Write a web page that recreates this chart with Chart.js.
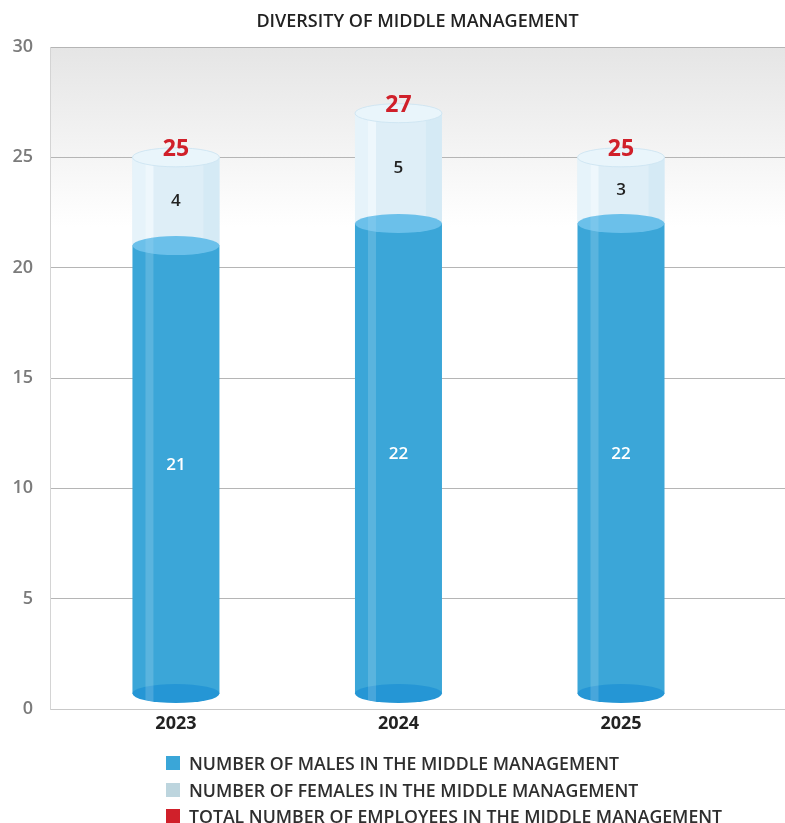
<!DOCTYPE html>
<html>
<head>
<meta charset="utf-8">
<title>Diversity of middle management</title>
<script src="https://cdn.jsdelivr.net/npm/chart.js@4.4.1/dist/chart.umd.min.js"></script>
<style>
  body { margin: 0; background: #fff; }
  #wrap { position: relative; width: 785px; height: 823px; }
  #legend {
    position: absolute; left: 166px; top: 750px;
    font-family: 'Open Sans', sans-serif; font-size: 17.7px; font-weight: 600; color: #2e2e2e;
  }
  .item { display: flex; align-items: center; height: 26.5px; white-space: nowrap; }
  .box { width: 14px; height: 14px; margin-right: 9px; flex: none; }
</style>
</head>
<body>
<div id="wrap">
  <canvas id="myChart" width="785" height="823"></canvas>
  <div id="legend"></div>
</div>
<script>
const years = ['2023', '2024', '2025'];
const males = [21, 22, 22];
const females = [4, 5, 3];
const totals = [25, 27, 25];

const seriesNames = [
  'NUMBER OF MALES IN THE MIDDLE MANAGEMENT',
  'NUMBER OF FEMALES IN THE MIDDLE MANAGEMENT',
  'TOTAL NUMBER OF EMPLOYEES IN THE MIDDLE MANAGEMENT'
];
const seriesColors = ['#3aa6d8', '#bdd5de', '#d0202a'];

const FONT = "'Open Sans', sans-serif";
const RY = 9.5;       // half height of the cylinder ellipses
const LIFT = 15;      // cylinders stand a little above the axis line

function ellipse(ctx, cx, cy, rx, ry) {
  ctx.beginPath();
  ctx.ellipse(cx, cy, rx, ry, 0, 0, Math.PI * 2);
}

function drawFemale(ctx, cx, w, top, bottom) {
  const left = cx - w / 2;
  ctx.fillStyle = '#deeef7';
  ctx.fillRect(left, top, w, bottom - top);
  ctx.fillStyle = '#e6f3fa';
  ctx.fillRect(left, top, 13, bottom - top);
  ctx.fillStyle = '#eef7fc';
  ctx.fillRect(left + 13, top, 8, bottom - top);
  ctx.fillStyle = '#d5eaf5';
  ctx.fillRect(left + w - 16, top, 16, bottom - top);
  ellipse(ctx, cx, top, w / 2, RY);
  ctx.fillStyle = '#e9f5fb';
  ctx.fill();
  ctx.strokeStyle = 'rgba(205,228,242,0.9)';
  ctx.lineWidth = 1;
  ctx.stroke();
}

function drawMale(ctx, cx, w, top, bottom) {
  const left = cx - w / 2;
  ctx.fillStyle = '#3ba6d8';
  ctx.fillRect(left, top, w, bottom - top);
  ellipse(ctx, cx, bottom, w / 2, RY);
  ctx.fillStyle = '#2596d5';
  ctx.fill();

  // light stripe down the side of the cylinder
  ctx.save();
  ctx.beginPath();
  ctx.rect(left, top, w, bottom - top);
  ctx.ellipse(cx, bottom, w / 2, RY, 0, 0, Math.PI * 2);
  ctx.clip();
  ctx.fillStyle = 'rgba(255,255,255,0.16)';
  ctx.fillRect(left + 13, top, 8, bottom - top + RY);
  ctx.restore();

  ellipse(ctx, cx, top, w / 2, RY);
  ctx.fillStyle = '#6bc0ea';
  ctx.fill();
  ctx.save();
  ellipse(ctx, cx, top, w / 2, RY);
  ctx.clip();
  ctx.fillStyle = 'rgba(255,255,255,0.1)';
  ctx.fillRect(left + 13, top - RY, 8, RY * 2);
  ctx.restore();
}

const cylinders = {
  id: 'cylinders',
  beforeDraw(chart) {
    const { ctx, chartArea } = chart;
    const g = ctx.createLinearGradient(0, chartArea.top, 0, chartArea.top + 180);
    g.addColorStop(0, '#e5e5e5');
    g.addColorStop(1, '#ffffff');
    ctx.save();
    ctx.fillStyle = g;
    ctx.fillRect(chartArea.left, chartArea.top, chartArea.right - chartArea.left, 180);
    ctx.restore();
  },
  afterDatasetsDraw(chart) {
    const { ctx, chartArea } = chart;
    const m = chart.getDatasetMeta(0).data;
    const f = chart.getDatasetMeta(1).data;
    ctx.save();
    years.forEach((yr, i) => {
      const w = m[i].width;
      const cx = m[i].x;
      const floor = m[i].base - LIFT;
      drawFemale(ctx, cx, w, f[i].y, f[i].base);
      drawMale(ctx, cx, w, m[i].y, floor);

      ctx.textAlign = 'center';
      ctx.textBaseline = 'middle';
      ctx.font = `600 17px ${FONT}`;
      ctx.fillStyle = '#ffffff';
      ctx.fillText(String(males[i]), cx, (m[i].y + floor) / 2 - 4);
      ctx.fillStyle = '#222222';
      ctx.fillText(String(females[i]), cx, (f[i].y + f[i].base) / 2);
      ctx.font = `700 23px ${FONT}`;
      ctx.fillStyle = '#d0202a';
      ctx.fillText(String(totals[i]), cx, chart.scales.y.getPixelForValue(totals[i]) - 8);
    });

    // heading over the plot
    ctx.font = `600 18px ${FONT}`;
    ctx.fillStyle = '#222222';
    ctx.fillText('DIVERSITY OF MIDDLE MANAGEMENT', (chartArea.left + chartArea.right) / 2, 22);
    ctx.restore();
  }
};

const ctx = document.getElementById('myChart').getContext('2d');
const chart = new Chart(ctx, {
  type: 'bar',
  data: {
    datasets: [
      {
        label: seriesNames[0],
        data: males.map((v, i) => ({ x: i, y: v })),
        backgroundColor: 'rgba(0,0,0,0)',
        borderWidth: 0,
        barThickness: 87
      },
      {
        label: seriesNames[1],
        data: females.map((v, i) => ({ x: i, y: v })),
        backgroundColor: 'rgba(0,0,0,0)',
        borderWidth: 0,
        barThickness: 87
      }
    ]
  },
  options: {
    responsive: false,
    animation: false,
    events: [],
    layout: { padding: { top: 47, left: 0, right: 0, bottom: 0 } },
    plugins: {
      legend: { display: false },
      tooltip: { enabled: false }
    },
    scales: {
      x: {
        type: 'linear',
        stacked: true,
        offset: false,
        min: -0.566,
        max: 2.737,
        afterBuildTicks: (s) => { s.ticks = years.map((y, i) => ({ value: i })); },
        afterFit: (s) => { s.height = 114; },
        grid: { display: false, drawTicks: false },
        border: { display: true, color: '#c9c9c9', width: 1 },
        ticks: {
          padding: 4,
          color: '#222222',
          font: { family: FONT, size: 18, weight: '700' },
          callback: (v) => years[v]
        }
      },
      y: {
        stacked: true,
        min: 0,
        max: 30,
        afterFit: (s) => { s.width = 50; },
        grid: { color: '#b5b5b5', drawTicks: false },
        border: { display: true, color: '#d4d4d4', width: 1 },
        ticks: {
          stepSize: 5,
          padding: 17,
          color: '#7b7b7b',
          font: { family: FONT, size: 18, weight: '600' }
        }
      }
    }
  },
  plugins: [cylinders]
});

// legend below the chart
const legend = document.getElementById('legend');
legend.innerHTML = seriesNames.map((name, i) =>
  `<div class="item"><span class="box" style="background:${seriesColors[i]}"></span>${name}</div>`
).join('');
</script>
</body>
</html>
